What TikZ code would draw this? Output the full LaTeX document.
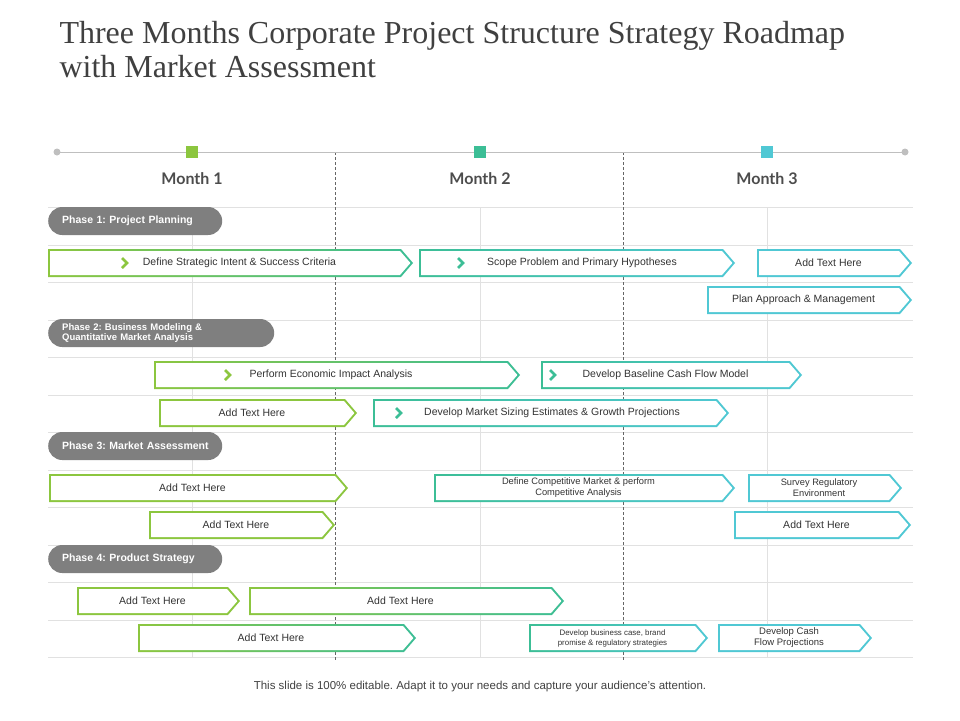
\documentclass[tikz,border=0pt]{standalone}
\usepackage{fontspec}
\setmainfont{Liberation Sans}
\newfontfamily\titlefont{Liberation Serif}
\newfontfamily\monthfont{Lato}
\frenchspacing
\newcommand\nohyph{\hyphenpenalty=10000 \hbadness=10000 \hfuzz=100pt }
\definecolor{my-green}{RGB}{140,198,63}
\definecolor{my-teal}{RGB}{60,190,150}
\definecolor{my-cyan}{RGB}{80,200,212}
\definecolor{my-gray}{RGB}{127,127,127}
\definecolor{grid-gray}{RGB}{225,225,225}
\tikzset{
  bartext/.style={font=\fontsize{10.5}{12}\selectfont, text=black!80, align=center, inner sep=0pt},
  phase/.style={fill=my-gray, rounded corners=14pt, text=white,
    font=\bfseries\fontsize{10.5}{11}\selectfont, execute at begin node=\nohyph,
    align=left, anchor=west, inner xsep=14pt, minimum height=28},
  month/.style={font=\monthfont\bfseries\fontsize{16}{18}\selectfont, text=black!70},
  chevicon/.style={line width=2.6pt, line cap=butt}
}
% chevron bar: [node options], name, x1, x2, y, left colour, right colour, text
\newcommand\chevbar[8][]{%
  \shade[left color=#6, right color=#7] (#3,#5-14) -- (#4-12,#5-14) -- (#4,#5) -- (#4-12,#5+14) -- (#3,#5+14) -- cycle;
  \fill[white] (#3+2,#5-12) -- (#4-13,#5-12) -- (#4-2.6,#5) -- (#4-13,#5+12) -- (#3+2,#5+12) -- cycle;
  \node[bartext, #1] (#2) at ({(#3+#4-12)/2},#5) {#8};}
\newcommand\chevicon[3]{\draw[chevicon, #3] (#1-3,#2-5) -- (#1+2,#2) -- (#1-3,#2+5);}
\begin{document}
\begin{tikzpicture}[x=1pt, y=-1pt]
  \useasboundingbox (0,0) rectangle (960,720);
  % title
  \node[anchor=west, font=\titlefont\fontsize{32}{34}\selectfont, text=black!75, align=left] (title) at (56,50)
    {Three Months Corporate Project Structure Strategy Roadmap\\with Market Assessment};
  % grid
  \foreach \y in {207,245,282,320,357,395,432,470,507,545,582,620,657}
    \draw[grid-gray, line width=1pt] (48,\y) -- (913,\y);
  \foreach \x in {192,480,767}
    \draw[grid-gray, line width=1pt] (\x,207) -- (\x,657);
  \foreach \x in {335,623}
    \draw[black!60, densely dashed, line width=0.5pt] (\x,152) -- (\x,660);
  % timeline
  \draw[black!25, line width=1pt] (57,152) -- (905,152);
  \fill[black!25] (57,152) circle (3.5) (905,152) circle (3.5);
  \fill[my-green] (186,146) rectangle (198,158);
  \fill[my-teal] (474,146) rectangle (486,158);
  \fill[my-cyan] (761,146) rectangle (773,158);
  \node[month] (m1) at (192,179) {Month 1};
  \node[month] (m2) at (480,179) {Month 2};
  \node[month] (m3) at (767,179) {Month 3};
  % phases
  \node[phase, text width=146] (p1) at (48,221) {Phase 1: Project Planning};
  \node[phase, text width=198, font=\bfseries\fontsize{9.5}{10}\selectfont] (p2) at (48,333) {Phase 2: Business Modeling \&\\Quantitative Market Analysis};
  \node[phase, text width=146] (p3) at (48,446) {\mbox{Phase 3: Market Assessment}};
  \node[phase, text width=146] (p4) at (48,559) {Phase 4: Product Strategy};
  % phase 1 bars
  \chevbar{b11}{48}{413}{263}{my-green}{my-teal}{\hspace{30pt}Define Strategic Intent \& Success Criteria}
  \chevicon{125}{263}{my-green}
  \chevbar{b12}{419}{735}{263}{my-teal}{my-cyan}{\hspace{22pt}Scope Problem and Primary Hypotheses}
  \chevicon{461}{263}{my-teal}
  \chevbar{b13}{757}{912}{263}{my-cyan}{my-cyan}{Add Text Here}
  \chevbar{b14}{707}{912}{300}{my-cyan}{my-cyan}{Plan Approach \& Management}
  % phase 2 bars
  \chevbar{b21}{154}{520}{375}{my-green}{my-teal}{Perform Economic Impact Analysis}
  \chevicon{228}{375}{my-green}
  \chevbar{b22}{541}{802}{375}{my-teal}{my-cyan}{Develop Baseline Cash Flow Model}
  \chevicon{553}{375}{my-teal}
  \chevbar{b23}{159}{357}{413}{my-green}{my-green}{Add Text Here}
  \chevbar{b24}{373}{729}{413}{my-teal}{my-cyan}{\hspace{14pt}Develop Market Sizing Estimates \& Growth Projections}
  \chevicon{399}{413}{my-teal}
  % phase 3 bars
  \chevbar{b31}{49}{348}{488}{my-green}{my-green}{Add Text Here}
  \chevbar[font=\fontsize{9.3}{11}\selectfont]{b32}{434}{735}{488}{my-teal}{my-cyan}{Define Competitive Market \& perform\\Competitive Analysis}
  \chevbar[font=\fontsize{9.3}{11}\selectfont]{b33}{748}{902}{488}{my-cyan}{my-cyan}{Survey Regulatory\\Environment}
  \chevbar{b34}{149}{335}{525}{my-green}{my-green}{Add Text Here}
  \chevbar{b35}{734}{911}{525}{my-cyan}{my-cyan}{Add Text Here}
  % phase 4 bars
  \chevbar{b41}{77}{240}{601}{my-green}{my-green}{Add Text Here}
  \chevbar{b42}{249}{564}{601}{my-green}{my-teal}{Add Text Here}
  \chevbar{b43}{138}{416}{638}{my-green}{my-teal}{Add Text Here}
  \chevbar[font=\fontsize{7.9}{10}\selectfont]{b44}{529}{708}{638}{my-teal}{my-cyan}{Develop business case, brand\\promise \& regulatory strategies}
  \chevbar[font=\fontsize{9.5}{11}\selectfont]{b45}{718}{872}{638}{my-cyan}{my-cyan}{Develop Cash\\Flow Projections}
  % footer
  \node[font=\fontsize{11.5}{13}\selectfont, text=black!75] (foot) at (480,687)
    {This slide is 100\% editable. Adapt it to your needs and capture your audience's attention.};
\end{tikzpicture}
\end{document}
